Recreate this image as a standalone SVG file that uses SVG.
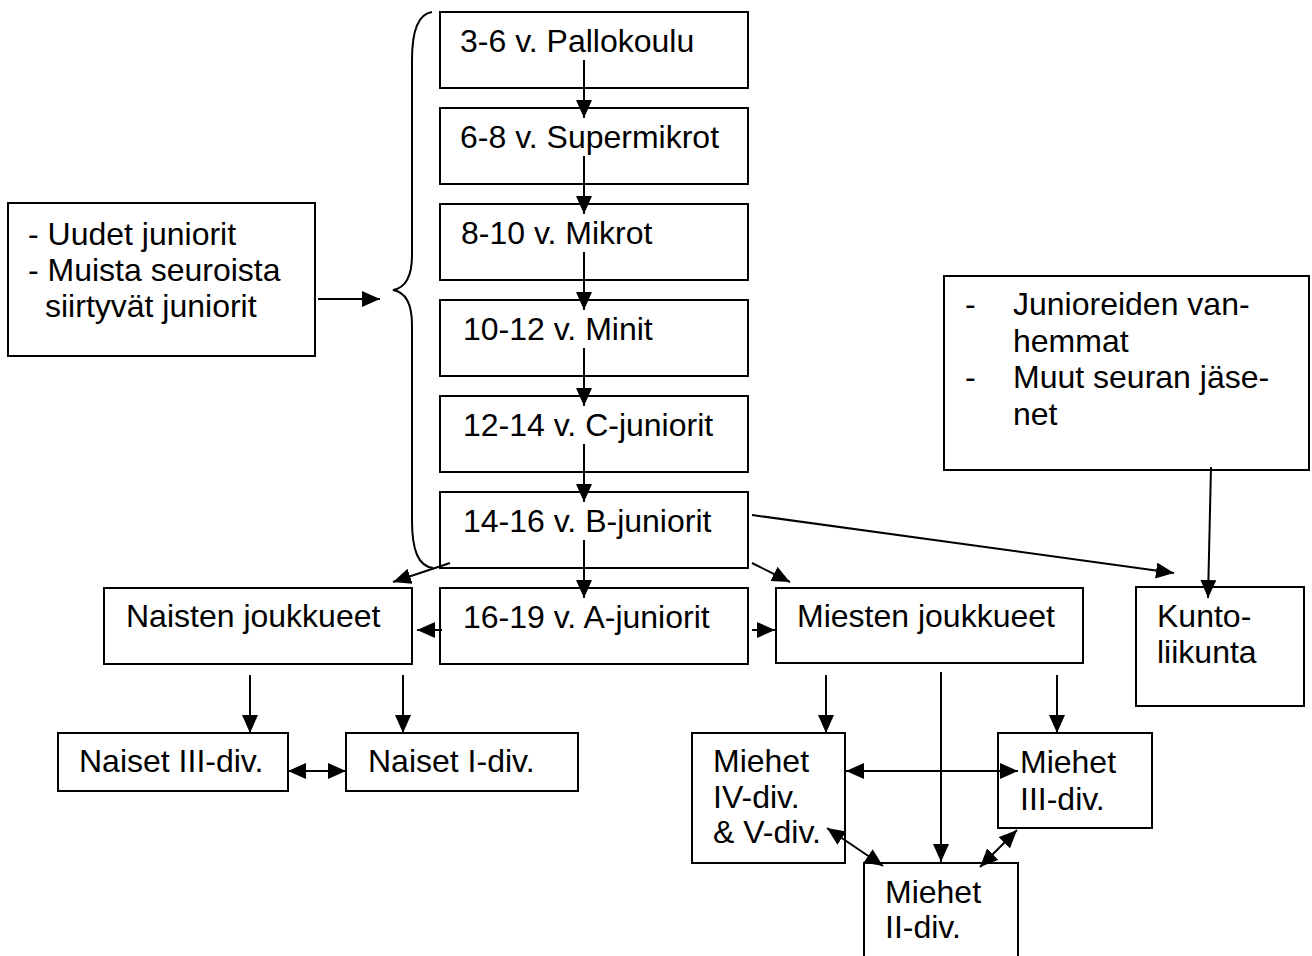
<svg xmlns="http://www.w3.org/2000/svg" width="1312" height="956" viewBox="0 0 1312 956">
<style>
rect{fill:#fff;stroke:#000;stroke-width:2}
text{font-family:"Liberation Sans",Arial,sans-serif;font-size:32px;fill:#000}
.c line,.c path{stroke:#000;stroke-width:2;fill:none}
.a{marker-end:url(#ah)}
.d{marker-start:url(#ah);marker-end:url(#ah)}
</style>
<defs>
<marker id="ah" markerUnits="userSpaceOnUse" markerWidth="20" markerHeight="18" refX="18" refY="8" orient="auto-start-reverse">
<path d="M0,0 L18,8 L0,16 z" fill="#000"/>
</marker>
</defs>
<rect width="1312" height="956" style="fill:#fff;stroke:none"/>
<g id="n-uudet"><rect x="8" y="203" width="307" height="153"/>
<text x="28" y="245">- Uudet juniorit</text><text x="28" y="281">- Muista seuroista</text><text x="45" y="317">siirtyvät juniorit</text></g>
<g id="n-pallokoulu"><rect x="440" y="12" width="308" height="76"/><text x="460" y="52">3-6 v. Pallokoulu</text></g>
<g id="n-supermikrot"><rect x="440" y="108" width="308" height="76"/><text x="460" y="148">6-8 v. Supermikrot</text></g>
<g id="n-mikrot"><rect x="440" y="204" width="308" height="76"/><text x="461" y="244">8-10 v. Mikrot</text></g>
<g id="n-minit"><rect x="440" y="300" width="308" height="76"/><text x="463" y="340">10-12 v. Minit</text></g>
<g id="n-cjun"><rect x="440" y="396" width="308" height="76"/><text x="463" y="436">12-14 v. C-juniorit</text></g>
<g id="n-bjun"><rect x="440" y="492" width="308" height="76"/><text x="463" y="532">14-16 v. B-juniorit</text></g>
<g id="n-ajun"><rect x="440" y="588" width="308" height="76"/><text x="463" y="628">16-19 v. A-juniorit</text></g>
<g id="n-naisten"><rect x="104" y="588" width="308" height="76"/><text x="126" y="627">Naisten joukkueet</text></g>
<g id="n-miesten"><rect x="776" y="588" width="307" height="75"/><text x="797" y="627">Miesten joukkueet</text></g>
<g id="n-junioreiden"><rect x="944" y="276" width="365" height="194"/>
<text x="965" y="315">-</text><text x="1013" y="315">Junioreiden van-</text><text x="1013" y="352">hemmat</text>
<text x="965" y="388">-</text><text x="1013" y="388">Muut seuran jäse-</text><text x="1013" y="425">net</text></g>
<g id="n-kunto"><rect x="1136" y="587" width="168" height="119"/><text x="1157" y="627">Kunto-</text><text x="1157" y="663">liikunta</text></g>
<g id="n-naiset3"><rect x="58" y="733" width="230" height="58"/><text x="79" y="772">Naiset III-div.</text></g>
<g id="n-naiset1"><rect x="346" y="733" width="232" height="58"/><text x="368" y="772">Naiset I-div.</text></g>
<g id="n-miehet45"><rect x="692" y="733" width="153" height="130"/><text x="713" y="772">Miehet</text><text x="713" y="808">IV-div.</text><text x="713" y="843">&amp; V-div.</text></g>
<g id="n-miehet3"><rect x="998" y="733" width="154" height="95"/><text x="1020" y="773">Miehet</text><text x="1020" y="810">III-div.</text></g>
<g id="n-miehet2"><rect x="864" y="863" width="154" height="120"/><text x="885" y="903">Miehet</text><text x="885" y="938">II-div.</text></g>
<g id="connectors" class="c">
<path d="M432 12 C418 14 412 30 412 60 L412 255 C412 278 405 288 393 290 C405 292 412 302 412 325 L412 520 C412 550 418 566 433 568"/>
<line class="a" x1="318" y1="299" x2="380" y2="299"/>
<line class="a" x1="584" y1="60" x2="584" y2="118"/>
<line class="a" x1="584" y1="156" x2="584" y2="214"/>
<line class="a" x1="584" y1="252" x2="584" y2="310"/>
<line class="a" x1="584" y1="348" x2="584" y2="406"/>
<line class="a" x1="584" y1="444" x2="584" y2="502"/>
<line class="a" x1="584" y1="540" x2="584" y2="598"/>
<line class="a" x1="450" y1="563" x2="393" y2="582"/>
<line class="a" x1="752" y1="563" x2="790" y2="582"/>
<line class="a" x1="752" y1="515" x2="1174" y2="573"/>
<line class="a" x1="442" y1="630" x2="417" y2="630"/>
<line class="a" x1="752" y1="630" x2="775" y2="630"/>
<line class="a" x1="1211" y1="467" x2="1208" y2="598"/>
<line class="a" x1="250" y1="675" x2="250" y2="733"/>
<line class="a" x1="403" y1="675" x2="403" y2="733"/>
<line class="d" x1="288" y1="771" x2="346" y2="771"/>
<line class="a" x1="826" y1="675" x2="826" y2="733"/>
<line class="a" x1="941" y1="672" x2="941" y2="862"/>
<line class="a" x1="1057" y1="675" x2="1057" y2="733"/>
<line class="d" x1="846" y1="771" x2="1018" y2="771"/>
<line class="d" x1="827" y1="828" x2="883" y2="866"/>
<line class="d" x1="1017" y1="830" x2="980" y2="867"/>
</g>
</svg>
